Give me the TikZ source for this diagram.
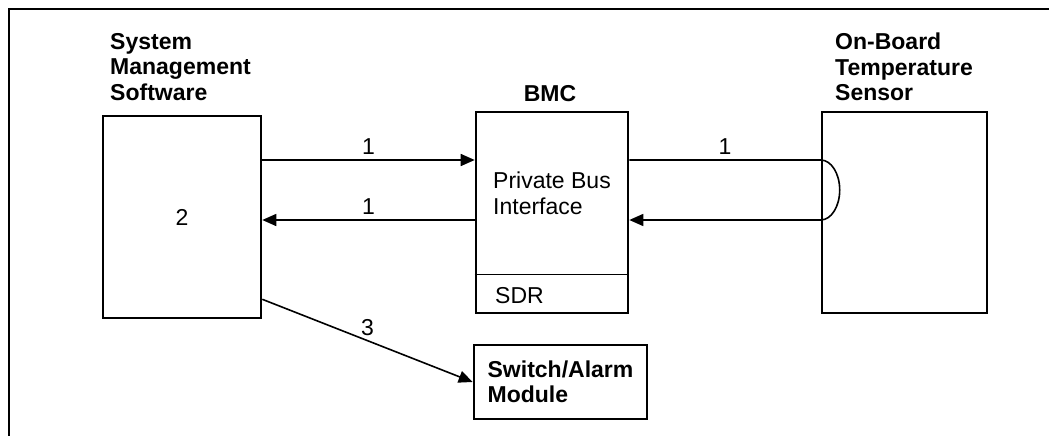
\documentclass[tikz,border=0pt]{standalone}
\usepackage{fontspec}
\setmainfont{Liberation Sans}
\usetikzlibrary{arrows.meta}

\begin{document}
\begin{tikzpicture}[x=1pt, y=-1pt,
		txt/.style={font=\fontsize{23}{25.5}\selectfont, inner sep=0pt},
		title/.style={font=\fontsize{23}{25.5}\selectfont\bfseries, inner sep=0pt, align=left, anchor=north west},
		box/.style={draw, line width=2.6pt, inner sep=0pt},
		arr/.style={line width=1.6pt, -{Triangle[length=14pt,width=12pt]}},
		num/.style={font=\fontsize{23}{25.5}\selectfont, midway, above=1pt}]
		\useasboundingbox (0,0) rectangle (1049,436);
		\draw[line width=2.6pt] (9,436) -- (9,9) -- (1049,9);
		\draw[color=black]
		node[box,minimum width=158pt,minimum height=202pt,font=\fontsize{23}{25.5}\selectfont] (sms) at (182,217){2}
		node[box,minimum width=152pt,minimum height=201pt] (bmc) at (552,212.5){}
		node[box,minimum width=165pt,minimum height=201pt] (sensor) at (904.5,212.5){}
		node[box,minimum width=173pt,minimum height=74pt,align=left,font=\fontsize{23}{25.5}\selectfont\bfseries] (alarm) at (560.5,382){Switch/Alarm\\Module}
		node[title] (smsLabel) at (110,33){System\\Management\\Software}
		node[title] (sensorLabel) at (835,33){On-Board\\Temperature\\Sensor}
		node[title,anchor=north] (bmcLabel) at (550,85){BMC}
		node[txt,align=left,anchor=north west] (bus) at (493,172){Private Bus\\Interface}
		node[txt,anchor=north west] (sdr) at (495,287){SDR};
		\coordinate (upper) at (0,160);
		\coordinate (lower) at (0,220);
		\draw [line width=1.2pt] ([yshift=40pt]bmc.south west) -- ([yshift=40pt]bmc.south east);
		\draw [arr] (sms.east |- upper) -- (bmc.west |- upper) node[num] {1};
		\draw [arr] (bmc.west |- lower) -- (sms.east |- lower) node[num] {1};
		\draw [arr] (bmc.east |- upper) -- (sensor.west |- upper) node[num] {1}
			arc[start angle=90, end angle=-90, x radius=19pt, y radius=30pt] -- (bmc.east |- lower);
		\draw [arr] ([yshift=20pt]sms.south east) -- (alarm.west) node[num] {3};
\end{tikzpicture}
\end{document}
